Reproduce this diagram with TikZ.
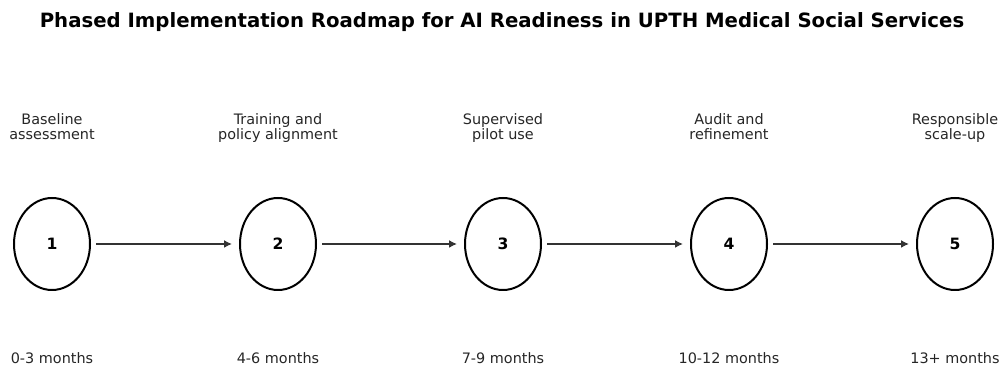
\documentclass[tikz,border=0pt]{standalone}
\usepackage{fontspec}
\setmainfont{DejaVu Sans}
\usepackage{tikz}
\usetikzlibrary{shapes.geometric, arrows.meta, positioning}

\begin{document}
\begin{tikzpicture}[
    x=0.5pt, y=-0.5pt,
    phase/.style={
        ellipse,
        draw=black,
        line width=1pt,
        minimum width=38pt,
        minimum height=46pt,
        inner sep=0pt,
        font=\fontsize{7.8pt}{9pt}\selectfont\bfseries
    },
    stagelabel/.style={
        align=center,
        font=\fontsize{7.2pt}{7.6pt}\selectfont,
        text=black!85,
        execute at end node=\strut
    },
    timelabel/.style={
        font=\fontsize{7.2pt}{8pt}\selectfont,
        text=black!85
    },
    flow/.style={
        -{Latex[length=4pt,width=4pt]},
        line width=0.75pt,
        draw=black!80,
        shorten <=2.5pt,
        shorten >=3.5pt
    }
]

\useasboundingbox (0,0) rectangle (1001,367);

\node[font=\fontsize{9.85pt}{11pt}\selectfont\bfseries] (title) at (502,22) {Phased Implementation Roadmap for AI Readiness in UPTH Medical Social Services};

\node[phase] (p1) at (52,244) {1};
\node[phase] (p2) at (278,244) {2};
\node[phase] (p3) at (503,244) {3};
\node[phase] (p4) at (729,244) {4};
\node[phase] (p5) at (955,244) {5};

\node[stagelabel] (s1) at (52,129) {Baseline\\assessment};
\node[stagelabel] (s2) at (278,129) {Training and\\policy alignment};
\node[stagelabel] (s3) at (503,129) {Supervised\\pilot use};
\node[stagelabel] (s4) at (729,129) {Audit and\\refinement};
\node[stagelabel] (s5) at (955,129) {Responsible\\scale-up};

\node[timelabel] (t1) at (52,358) {0-3 months};
\node[timelabel] (t2) at (278,358) {4-6 months};
\node[timelabel] (t3) at (503,358) {7-9 months};
\node[timelabel] (t4) at (729,358) {10-12 months};
\node[timelabel] (t5) at (955,358) {13+ months};

\draw[flow] (p1) -- (p2);
\draw[flow] (p2) -- (p3);
\draw[flow] (p3) -- (p4);
\draw[flow] (p4) -- (p5);

\end{tikzpicture}
\end{document}
